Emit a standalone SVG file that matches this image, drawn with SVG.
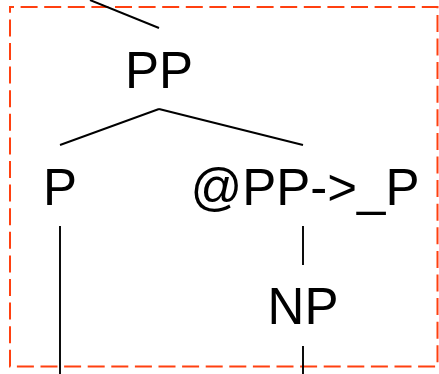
<svg xmlns="http://www.w3.org/2000/svg" width="439" height="374" viewBox="0 0 439 374">
  <style>
    .label { font-family: "Liberation Sans", Arial, sans-serif; font-size: 51px; fill: #000; text-anchor: middle; }
    .edge { stroke: #000; stroke-width: 1.9; fill: none; }
    .cluster { stroke: #ff4010; stroke-width: 2; fill: none; stroke-dasharray: 17 6.6; stroke-dashoffset: 13; }
  </style>
  <rect width="439" height="374" fill="#fff"/>
  <!-- subtree frame -->
  <path id="cluster" class="cluster" d="M10,7 H437.5 V366.5 H10 Z"/>
  <!-- connectors -->
  <g id="edges">
    <line class="edge" x1="90" y1="0" x2="159" y2="28"/>
    <line class="edge" x1="159" y1="109" x2="60" y2="145"/>
    <line class="edge" x1="159" y1="109" x2="303" y2="145"/>
    <line class="edge" x1="60" y1="226" x2="60" y2="374"/>
    <line class="edge" x1="303" y1="226" x2="303" y2="265"/>
    <line class="edge" x1="303" y1="346" x2="303" y2="374"/>
  </g>
  <!-- nodes -->
  <g id="node-PP"><text class="label" x="159" y="88">PP</text></g>
  <g id="node-P"><text class="label" x="60" y="205">P</text></g>
  <g id="node-PP-P"><text class="label" x="305" y="205">@PP-&gt;_P</text></g>
  <g id="node-NP"><text class="label" x="303" y="324">NP</text></g>
</svg>
